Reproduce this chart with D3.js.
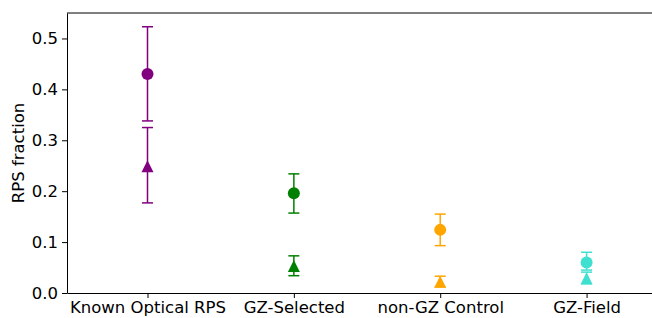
<!DOCTYPE html>
<html>
<head>
<meta charset="utf-8">
<title>RPS fraction</title>
<script src="https://cdn.jsdelivr.net/npm/d3@7"></script>
<style>
    body { margin: 0; background: #fff; }
    svg text { font-family: "DejaVu Sans", sans-serif; fill: #000; }
</style>
</head>
<body>
<div id="chart"></div>
<script>
    // data
    var categories = ['Known Optical RPS', 'GZ-Selected', 'non-GZ Control', 'GZ-Field'];
    var colors = ['#800080', '#008000', '#ffa500', '#40e0d0'];

    // circles
    var circleVal = [0.430, 0.196, 0.124, 0.060];
    var circleLo  = [0.338, 0.157, 0.093, 0.045];
    var circleHi  = [0.523, 0.234, 0.155, 0.080];

    // triangles
    var triVal = [0.249, 0.053, 0.022, 0.029];
    var triLo  = [0.177, 0.034, 0.012, 0.018];
    var triHi  = [0.325, 0.073, 0.033, 0.041];

    var yTicks = [0.0, 0.1, 0.2, 0.3, 0.4, 0.5];

    var W = 652, H = 318;
    var m = {left: 67, top: 13, bottom: 25};
    var plotRight = 670;
    var fontSize = '16.5px';

    var svg = d3.select('#chart').append('svg')
            .attr('width', W)
            .attr('height', H);

    var x = d3.scaleLinear().domain([-0.55, 3.57]).range([m.left, plotRight]);
    var y = d3.scaleLinear().domain([0, 0.55]).range([H - m.bottom, m.top]);

    // axes
    var xAxis = d3.axisBottom(x)
            .tickValues(d3.range(categories.length))
            .tickFormat(function(d) { return categories[d]; })
            .tickSizeInner(5).tickSizeOuter(0).tickPadding(3);
    var yAxis = d3.axisLeft(y)
            .tickValues(yTicks)
            .tickFormat(d3.format('.1f'))
            .tickSizeInner(5).tickSizeOuter(0).tickPadding(4);

    var gx = svg.append('g').attr('transform', 'translate(0,' + y(0) + ')').call(xAxis);
    var gy = svg.append('g').attr('transform', 'translate(' + m.left + ',0)').call(yAxis);
    [gx, gy].forEach(function(g) {
        g.attr('font-size', null).attr('font-family', null);
        g.selectAll('text').style('font-size', fontSize);
        g.select('.domain').attr('stroke', '#000').attr('stroke-width', 1);
        g.selectAll('.tick line').attr('stroke', '#000').attr('stroke-width', 1);
    });

    // top spine
    svg.append('line')
            .attr('x1', m.left).attr('x2', plotRight)
            .attr('y1', y(0.55)).attr('y2', y(0.55))
            .attr('stroke', '#000').attr('stroke-width', 1);

    svg.append('text')
            .attr('transform', 'translate(24,' + y(0.275) + ') rotate(-90)')
            .attr('text-anchor', 'middle')
            .style('font-size', fontSize)
            .text('RPS fraction');

    function errorBars(vals, lo, hi) {
        var g = svg.append('g');
        vals.forEach(function(v, i) {
            var cx = x(i), c = colors[i];
            g.append('line')
                    .attr('x1', cx).attr('x2', cx)
                    .attr('y1', y(lo[i])).attr('y2', y(hi[i]))
                    .attr('stroke', c).attr('stroke-width', 1.5);
            [lo[i], hi[i]].forEach(function(e) {
                g.append('line')
                        .attr('x1', cx - 5.5).attr('x2', cx + 5.5)
                        .attr('y1', y(e)).attr('y2', y(e))
                        .attr('stroke', c).attr('stroke-width', 1.5);
            });
        });
    }

    errorBars(triVal, triLo, triHi);
    errorBars(circleVal, circleLo, circleHi);

    svg.selectAll('circle.pt')
            .data(circleVal)
            .enter()
            .append('circle')
            .attr('class', 'pt')
            .attr('cx', function(d, i) { return x(i); })
            .attr('cy', function(d) { return y(d); })
            .attr('r', 6)
            .attr('fill', function(d, i) { return colors[i]; });

    svg.selectAll('path.tri')
            .data(triVal)
            .enter()
            .append('path')
            .attr('class', 'tri')
            .attr('d', function(d, i) {
                var cx = x(i), cy = y(d), s = 6;
                return 'M' + cx + ',' + (cy - s) + 'L' + (cx + s) + ',' + (cy + s) + 'L' + (cx - s) + ',' + (cy + s) + 'Z';
            })
            .attr('fill', function(d, i) { return colors[i]; });
</script>
</body>
</html>
